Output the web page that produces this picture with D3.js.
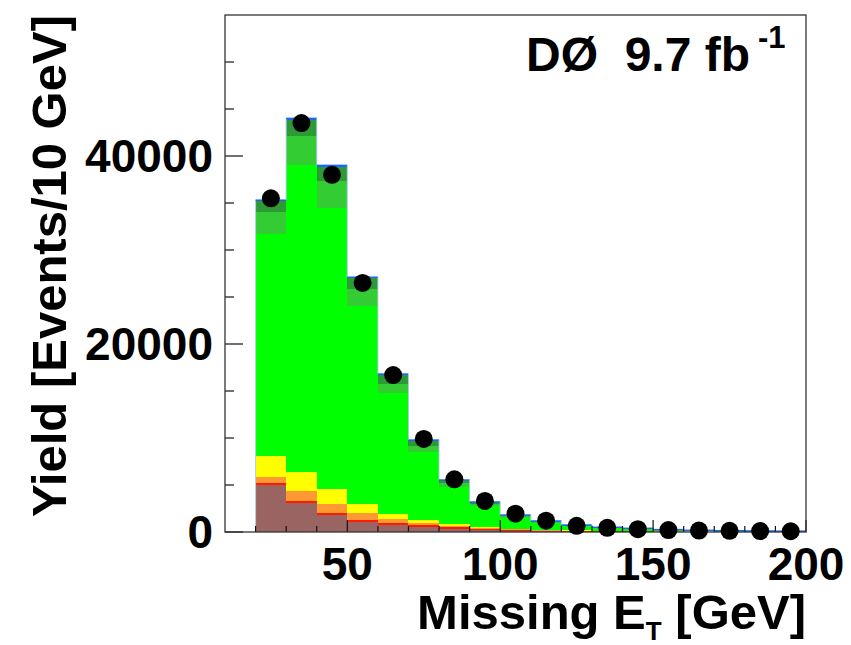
<!DOCTYPE html>
<html>
<head>
<meta charset="utf-8">
<script src="https://cdn.jsdelivr.net/npm/d3@7"></script>
<style>
  html, body { margin: 0; padding: 0; background: #fff; }
  svg { display: block; }
  text { font-family: "Liberation Sans", Arial, Helvetica, sans-serif; font-weight: bold; fill: #000; }
</style>
</head>
<body>
<svg id="chart" width="851" height="645"></svg>
<script>
// Missing E_T distribution, 10 GeV bins from 20 to 200 GeV
const binLow = [20, 30, 40, 50, 60, 70, 80, 90, 100, 110, 120, 130, 140, 150, 160, 170, 180, 190];
const binWidth = 10;

// stacked prediction, bottom to top
const multijet = [5000, 3110, 1800, 1030, 740, 500, 320, 200, 120, 80, 50, 35, 25, 20, 15, 12, 10, 8];
const zJets    = [200, 210, 250, 250, 250, 200, 180, 130, 90, 60, 50, 40, 35, 30, 25, 20, 18, 15];
const topPair  = [700, 1060, 920, 710, 360, 210, 180, 100, 60, 40, 30, 20, 15, 10, 8, 6, 5, 4];
const diboson  = [2200, 1990, 1560, 990, 560, 350, 180, 100, 60, 40, 30, 25, 20, 15, 10, 8, 6, 5];
const wLight   = [23640, 32700, 29980, 21010, 12850, 7290, 3930, 2200, 1200, 765, 460, 297, 234, 125, 85, 65, 46, 38];
const wCharm   = [2300, 3110, 2870, 1880, 1000, 640, 400, 250, 150, 100, 60, 40, 30, 25, 18, 14, 12, 10];
const wBottom  = [1140, 1670, 1490, 1130, 960, 530, 300, 180, 100, 70, 50, 35, 25, 20, 15, 12, 10, 8];
const otherBkg = [120, 150, 130, 100, 80, 60, 40, 30, 20, 15, 10, 8, 6, 5, 4, 3, 3, 2];

// observed events
const dataCounts = [35500, 43500, 38000, 26500, 16700, 9900, 5600, 3300, 1950, 1200, 660, 450, 300, 210, 150, 120, 100, 80];

// axis ticks
const xMajorTicks = [50, 100, 150, 200];
const yMajorTicks = [0, 20000, 40000];
const xDomain = [10, 200];
const yDomain = [0, 55000];

const componentKeys = ["multijet", "zJets", "topPair", "diboson", "wLight", "wCharm", "wBottom", "otherBkg"];
const componentColors = {
  multijet: "#9a6462",
  zJets: "#ff1a00",
  topPair: "#ff9933",
  diboson: "#ffff00",
  wLight: "#00ff00",
  wCharm: "#33cc33",
  wBottom: "#2e9a35",
  otherBkg: "#1a66ff"
};
const series = { multijet, zJets, topPair, diboson, wLight, wCharm, wBottom, otherBkg };

const table = binLow.map((lo, i) => {
  const row = { lo };
  componentKeys.forEach(k => { row[k] = series[k][i]; });
  return row;
});

const frame = { left: 225, right: 806, top: 15, bottom: 532 };
const svg = d3.select("#chart");

const x = d3.scaleLinear().domain(xDomain).range([frame.left, frame.right]);
const y = d3.scaleLinear().domain(yDomain).range([frame.bottom, frame.top]);

const stacked = d3.stack().keys(componentKeys)(table);

// stacked histogram fills
const plot = svg.append("g");
stacked.forEach(layer => {
  plot.append("g")
    .attr("fill", componentColors[layer.key])
    .attr("shape-rendering", "crispEdges")
    .selectAll("rect")
    .data(layer)
    .join("rect")
    .attr("x", d => x(d.data.lo))
    .attr("width", d => x(d.data.lo + binWidth) - x(d.data.lo))
    .attr("y", d => y(d[1]))
    .attr("height", d => Math.max(0, y(d[0]) - y(d[1])));
});

// outline of the total prediction
const totals = table.map(r => componentKeys.reduce((s, k) => s + r[k], 0));
const outline = svg.append("g");
totals.forEach((t, i) => {
  const prev = i === 0 ? 0 : totals[i - 1];
  outline.append("line")
    .attr("x1", x(binLow[i])).attr("x2", x(binLow[i]))
    .attr("y1", y(prev)).attr("y2", y(t))
    .attr("stroke", "#a9cde6").attr("stroke-width", 1);
  outline.append("line")
    .attr("x1", x(binLow[i])).attr("x2", x(binLow[i] + binWidth))
    .attr("y1", y(t)).attr("y2", y(t))
    .attr("stroke", "#1a66ff").attr("stroke-width", 1.5);
});

// axis ticks drawn inside the frame
const axes = svg.append("g").attr("stroke", "#111").attr("stroke-width", 1.2);
const xTickVals = d3.range(xDomain[0] + 10, xDomain[1] + 1, 10);
xTickVals.forEach(v => {
  const major = xMajorTicks.includes(v);
  axes.append("line")
    .attr("x1", x(v)).attr("x2", x(v))
    .attr("y1", frame.bottom).attr("y2", frame.bottom - (major ? 12 : 6));
});
const yTickVals = d3.range(0, yDomain[1], 5000);
yTickVals.forEach(v => {
  const major = yMajorTicks.includes(v);
  axes.append("line")
    .attr("x1", frame.left).attr("x2", frame.left + (major ? 18 : 9))
    .attr("y1", y(v)).attr("y2", y(v));
});

// frame
svg.append("rect")
  .attr("x", frame.left).attr("y", frame.top)
  .attr("width", frame.right - frame.left)
  .attr("height", frame.bottom - frame.top)
  .attr("fill", "none").attr("stroke", "#333").attr("stroke-width", 1.3);

// data points
svg.append("g").selectAll("circle")
  .data(dataCounts)
  .join("circle")
  .attr("cx", (d, i) => x(binLow[i] + binWidth / 2))
  .attr("cy", d => y(d))
  .attr("r", 9)
  .attr("fill", "#000");

// tick labels
svg.append("g").selectAll("text")
  .data(yMajorTicks)
  .join("text")
  .attr("x", 213)
  .attr("y", d => y(d) + 16)
  .attr("text-anchor", "end")
  .attr("font-size", 46)
  .text(d => d);

svg.append("g").selectAll("text")
  .data(xMajorTicks)
  .join("text")
  .attr("x", d => x(d))
  .attr("y", 580)
  .attr("text-anchor", "middle")
  .attr("font-size", 46)
  .text(d => d);

// axis titles
const xTitle = svg.append("text")
  .attr("x", frame.right)
  .attr("y", 629)
  .attr("text-anchor", "end")
  .attr("font-size", 49);
xTitle.append("tspan").text("Missing E");
xTitle.append("tspan").attr("font-size", 26).attr("dy", 11).text("T");
xTitle.append("tspan").attr("dy", -11).text(" [GeV]");

svg.append("text")
  .attr("transform", `translate(66,${frame.top}) rotate(-90)`)
  .attr("text-anchor", "end")
  .attr("font-size", 49)
  .text("Yield [Events/10 GeV]");

// experiment and luminosity label
const lumi = svg.append("text")
  .attr("x", 526)
  .attr("y", 71)
  .attr("font-size", 48);
lumi.append("tspan").text("DØ\u00a0\u00a09.7 fb");
lumi.append("tspan").attr("font-size", 31).attr("dx", 8).attr("dy", -23).text("-1");
</script>
</body>
</html>
